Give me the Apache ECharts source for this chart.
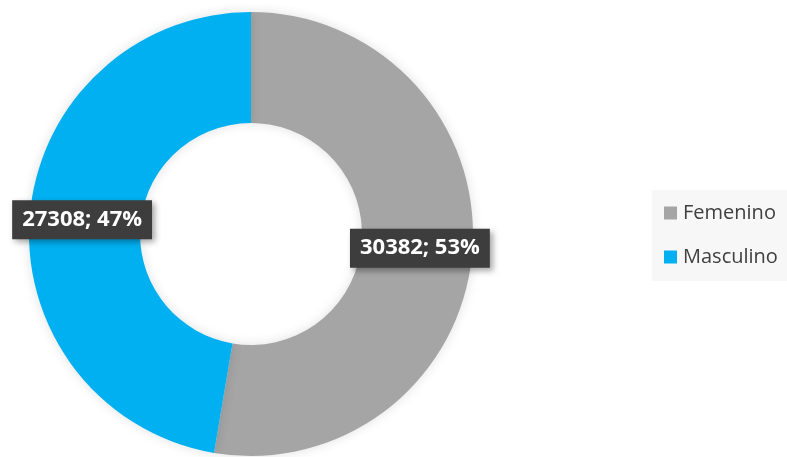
<!DOCTYPE html>
<html lang="es">
<head>
    <meta charset="UTF-8">
    <title>Femenino / Masculino</title>
    <script src="https://cdn.jsdelivr.net/npm/echarts@6/dist/echarts.min.js"></script>
    <style>
        html, body { margin: 0; padding: 0; background: #ffffff; }
        #main { width: 787px; height: 457px; }
    </style>
</head>
<body>
<div id="main"></div>
<script>
    var categorias = ['Femenino', 'Masculino'];
    var valores = [30382, 27308];
    var colores = ['#a5a5a5', '#00b0f0'];

    var datos = [];
    for (let i = 0; i < categorias.length; i++) {
        datos.push({ name: categorias[i], value: valores[i], itemStyle: { color: colores[i] } });
    }

    var chart = echarts.init(document.getElementById('main'));
    var option = {
        backgroundColor: '#ffffff',
        animation: false,
        legend: {
            orient: 'vertical',
            left: 652,
            top: 190,
            backgroundColor: '#f7f7f7',
            padding: [13, 40, 14, 12],
            itemWidth: 13,
            itemHeight: 13,
            itemGap: 24,
            icon: 'rect',
            textStyle: { fontFamily: 'Open Sans', fontSize: 20, color: '#404040', padding: [0, 0, 0, 1] },
            data: categorias
        },
        series: [
            {
                type: 'pie',
                center: [251, 234],
                radius: [111, 222],
                startAngle: 90,
                clockwise: true,
                avoidLabelOverlap: false,
                itemStyle: { shadowBlur: 12, shadowColor: 'rgba(0,0,0,0.12)' },
                label: {
                    show: true,
                    position: 'inside',
                    formatter: function (p) { return p.value + '; ' + Math.round(p.percent) + '%'; },
                    fontFamily: 'Open Sans',
                    fontWeight: 'bold',
                    fontSize: 22,
                    color: '#ffffff',
                    backgroundColor: '#3d3d3d',
                    padding: [9, 10, 8, 10],
                    shadowBlur: 6,
                    shadowOffsetX: 3,
                    shadowOffsetY: 3,
                    shadowColor: 'rgba(0,0,0,0.35)'
                },
                labelLine: { show: false },
                emphasis: { disabled: true },
                data: datos
            }
        ]
    };
    chart.setOption(option);
</script>
</body>
</html>
